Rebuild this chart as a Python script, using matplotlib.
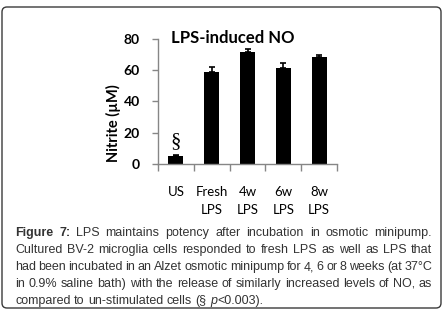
import re
import matplotlib
matplotlib.use("Agg")
import matplotlib.pyplot as plt
from matplotlib.patches import FancyBboxPatch
from matplotlib.transforms import IdentityTransform

# data
groups = ["US", "Fresh\nLPS", "4w\nLPS", "6w\nLPS", "8w\nLPS"]
nitrite = [5.2, 58.8, 71.5, 61.6, 68.3]
sem = [0.8, 3.3, 2.0, 2.8, 1.6]
yticks = [0, 20, 40, 60, 80]

caption_lines = [
    "**Figure** **7:** LPS maintains potency after incubation in osmotic minipump.",
    "Cultured BV-2 microglia cells responded to fresh LPS as well as LPS that",
    "had been incubated in an Alzet osmotic minipump for 4, 6 or 8 weeks (at 37°C",
    "in 0.9% saline bath) with the release of similarly increased levels of NO, as",
    "compared to un-stimulated cells (§ _p_<0.003).",
]

W, H = 446, 311
fig = plt.figure(figsize=(W / 100, H / 100), dpi=100)
plt.rcParams['font.family'] = ['Lato', 'DejaVu Sans']


def px(x, y):
    # reference pixel (top-left origin) -> figure fraction
    return x / W, 1 - y / H


# axes box: x 158..337, y 39..164 px
ax = fig.add_axes([158 / W, 1 - 164 / H, (337 - 158) / W, (164 - 39) / H])
x = range(len(groups))
ax.bar(x, nitrite, width=0.42, color="black", zorder=2)
ax.errorbar(x, nitrite, yerr=[[0] * len(sem), sem], fmt="none",
            ecolor="black", elinewidth=1.2, capsize=2.5, capthick=1.2, zorder=3)

ax.set_xlim(-0.5, len(groups) - 0.5)
ax.set_ylim(0, 80)
ax.set_yticks(yticks)
ax.set_yticklabels([str(v) for v in yticks], fontsize=10, fontweight="bold")
ax.set_xticks([i - 0.5 for i in range(len(groups) + 1)], minor=False)
ax.set_xticklabels([])
ax.set_xticks(list(x), minor=True)
ax.set_xticklabels(groups, minor=True, fontsize=9.5, linespacing=1.55)
ax.tick_params(axis="x", which="major", length=5, width=1, color="#868686")
ax.tick_params(axis="x", which="minor", length=0, pad=16)
ax.tick_params(axis="y", length=4, width=1, color="#868686", pad=9)
for side in ["top", "right"]:
    ax.spines[side].set_visible(False)
for side in ["left", "bottom"]:
    ax.spines[side].set_color("#868686")
    ax.spines[side].set_linewidth(1)

ax.text(0, nitrite[0] + sem[0] + 2.5, "§", ha="center", va="bottom",
        fontsize=15, family="Liberation Serif")

fig.text(*px(233, 38), "LPS-induced NO", ha="center", va="center",
         fontsize=12, fontweight="bold")
fig.text(*px(113, 123), "Nitrite (µM)", ha="center", va="center",
         rotation=90, fontsize=10.5, fontweight="bold")

# frame round the whole figure
frame = FancyBboxPatch((2, H - 308), 439, 301, boxstyle="round,pad=0,rounding_size=5",
                       transform=IdentityTransform(), fill=False,
                       edgecolor="#3a3a3a", linewidth=1.0)
fig.patches.append(frame)

# justified caption
renderer = fig.canvas.get_renderer()
left, right = 15, 432
baselines = [236, 253, 270, 287, 304]
cap_color = "#333333"


def parse_word(word):
    runs = []
    for part in re.split(r"(\*\*.+?\*\*|_.+?_)", word):
        if not part:
            continue
        if part.startswith("**"):
            runs.append((part[2:-2], "bold", "normal"))
        elif part.startswith("_"):
            runs.append((part[1:-1], "normal", "italic"))
        else:
            runs.append((part, "normal", "normal"))
    return runs


space = fig.text(0, 0, "a a", fontsize=9, family="Liberation Sans")
aa = fig.text(0, 0, "aa", fontsize=9, family="Liberation Sans")
space_w = space.get_window_extent(renderer).width - aa.get_window_extent(renderer).width
space.remove()
aa.remove()

for li, line in enumerate(caption_lines):
    words = []
    for word in line.split(" "):
        items = []
        for txt, wt, st in parse_word(word):
            t = fig.text(0, 0, txt, fontsize=9, family="Liberation Sans",
                         fontweight=wt, fontstyle=st, color=cap_color,
                         va="baseline", ha="left")
            items.append((t, t.get_window_extent(renderer).width))
        words.append(items)
    total = sum(w for items in words for _, w in items)
    last = li == len(caption_lines) - 1
    gap = space_w if last else (right - left - total) / (len(words) - 1)
    cx = left
    for items in words:
        for t, w in items:
            t.set_position(px(cx, baselines[li]))
            cx += w
        cx += gap

fig.savefig("out.png", dpi=100)
